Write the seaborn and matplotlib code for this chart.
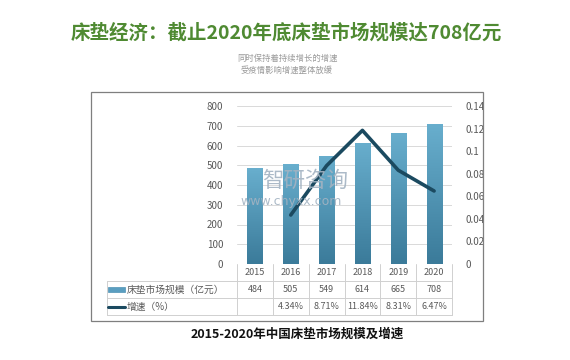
import numpy as np
import pandas as pd
import matplotlib
matplotlib.use("Agg")
import matplotlib.pyplot as plt
import matplotlib.transforms as mtransforms
from matplotlib.lines import Line2D
from matplotlib.patches import Rectangle
import seaborn as sns

# ---------------------------
# Data
# ---------------------------
years = ["2015", "2016", "2017", "2018", "2019", "2020"]
market_size = [484, 505, 549, 614, 665, 708]          # 亿元
growth = [np.nan, 0.0434, 0.0871, 0.1184, 0.0831, 0.0647]
growth_labels = ["", "4.34%", "8.71%", "11.84%", "8.31%", "6.47%"]
left_ticks = [0, 100, 200, 300, 400, 500, 600, 700, 800]
right_ticks = [0, 0.02, 0.04, 0.06, 0.08, 0.1, 0.12, 0.14]
right_tick_labels = ["0", "0.02", "0.04", "0.06", "0.08", "0.1", "0.12", "0.14"]

title = "床垫经济：截止2020年底床垫市场规模达708亿元"
subtitle = ["同时保持着持续增长的增速", "受疫情影响增速整体放缓"]
caption = "2015-2020年中国床垫市场规模及增速"
row_labels = ["床垫市场规模（亿元）", "增速（%）"]

df = pd.DataFrame({"year": years, "size": market_size, "growth": growth})

# ---------------------------
# Style
# ---------------------------
sns.set_style("white")
plt.rcParams["font.family"] = ["Noto Sans CJK SC", "DejaVu Sans"]

W, H = 570, 360
fig = plt.figure(figsize=(W / 100, H / 100), dpi=100)

def fx(px):
    return px / W

def fy(py):
    return 1 - py / H

ax = fig.add_axes([fx(237), fy(264), fx(452) - fx(237), fy(106) - fy(264)])

bar_color = "#5a9ec0"
line_color = "#1b4a60"
tick_color = "#595959"
grid_color = "#d9d9d9"

sns.barplot(data=df, x="year", y="size", color=bar_color, width=0.42,
            saturation=1, ax=ax, zorder=2)

# gradient fill on bars
grad = np.linspace(0, 1, 64).reshape(-1, 1)
cmap = matplotlib.colors.LinearSegmentedColormap.from_list(
    "bar", ["#3b7b9a", "#68aecd"])
for p in ax.patches:
    x0, y0 = p.get_x(), p.get_y()
    w, h = p.get_width(), p.get_height()
    im = ax.imshow(grad, cmap=cmap, aspect="auto", origin="lower",
                   extent=[x0, x0 + w, y0, y0 + h], zorder=2.5)
    im.set_clip_path(p)
    p.set_edgecolor("#4f93b5")
    p.set_linewidth(0.6)

ax.set_xlim(-0.5, len(years) - 0.5)
ax.set_ylim(0, 800)
ax.set_yticks(left_ticks)
ax.set_yticklabels([str(t) for t in left_ticks])
ax.tick_params(axis="y", length=0, pad=10, labelsize=7, labelcolor=tick_color)
ax.set_xticks([])
ax.set_xlabel("")
ax.set_ylabel("")
ax.grid(axis="y", color=grid_color, linewidth=0.7, zorder=0)
ax.set_axisbelow(True)
for s in ax.spines.values():
    s.set_visible(False)

ax2 = ax.twinx()
sns.lineplot(data=df, x="year", y="growth", color=line_color, linewidth=2.6,
             ax=ax2, zorder=5)
ax2.set_ylim(0, 0.14)
ax2.set_yticks(right_ticks)
ax2.set_yticklabels(right_tick_labels)
ax2.tick_params(axis="y", length=0, pad=10, labelsize=7, labelcolor=tick_color)
ax2.set_xlabel("")
ax2.set_ylabel("")
for s in ax2.spines.values():
    s.set_visible(False)

# watermark
fig.text(fx(305), fy(181), "智研咨询", fontsize=15.5, color="#a3b3c2",
         alpha=0.9, ha="center", va="center", zorder=10)
fig.text(fx(291), fy(201), "www.chyxx.com", fontsize=9, color="#a3b3c2",
         alpha=0.9, ha="center", va="center", zorder=10,
         family=["DejaVu Sans"])

# ---------------------------
# Data table under the chart
# ---------------------------
trans = mtransforms.blended_transform_factory(ax.transData, fig.transFigure)
n = len(years)
table_line = "#d0d0d0"
y_top, y_r1, y_r2, y_bot = fy(264), fy(281), fy(298), fy(315)
x_label_left = fx(107)

for yy in (y_r1, y_r2, y_bot):
    fig.add_artist(Line2D([x_label_left, fx(452)], [yy, yy],
                          transform=fig.transFigure, color=table_line, lw=0.7))
for i in range(n + 1):
    fig.add_artist(Line2D([i - 0.5, i - 0.5], [y_top, y_bot], transform=trans,
                          color=table_line, lw=0.7))
fig.add_artist(Line2D([x_label_left, x_label_left], [y_r1, y_bot],
                      transform=fig.transFigure, color=table_line, lw=0.7))

for i, (yr, v, g) in enumerate(zip(years, market_size, growth_labels)):
    fig.text(i, (y_top + y_r1) / 2, yr, transform=trans, ha="center",
             va="center", fontsize=6.5, color=tick_color)
    fig.text(i, (y_r1 + y_r2) / 2, str(v), transform=trans, ha="center",
             va="center", fontsize=6.5, color=tick_color)
    fig.text(i, (y_r2 + y_bot) / 2, g, transform=trans, ha="center",
             va="center", fontsize=6.5, color=tick_color)

# legend keys in the table
fig.add_artist(Rectangle((fx(108), (y_r1 + y_r2) / 2 - 2.5 / H), fx(17), 5 / H,
                         transform=fig.transFigure, facecolor=bar_color,
                         edgecolor="#4f93b5", lw=0.5))
fig.add_artist(Line2D([fx(108), fx(125)], [(y_r2 + y_bot) / 2] * 2,
                      transform=fig.transFigure, color=line_color, lw=2.2))
fig.text(fx(127), (y_r1 + y_r2) / 2, row_labels[0], ha="left", va="center",
         fontsize=7, color=tick_color)
fig.text(fx(127), (y_r2 + y_bot) / 2, row_labels[1], ha="left", va="center",
         fontsize=7, color=tick_color)

# chart frame
fig.add_artist(Rectangle((fx(91), fy(321)), fx(483) - fx(91), fy(92) - fy(321),
                         transform=fig.transFigure, fill=False,
                         edgecolor="#7f7f7f", lw=0.9))

# ---------------------------
# Titles
# ---------------------------
fig.text(fx(286), fy(33), title, ha="center", va="center", fontsize=14,
         fontweight="bold", color="#4f8a32")
fig.text(fx(287), fy(58), subtitle[0], ha="center", va="center",
         fontsize=6, color="#9a9a9a")
fig.text(fx(287), fy(70), subtitle[1], ha="center", va="center",
         fontsize=6, color="#9a9a9a")
fig.text(fx(297), fy(334), caption, ha="center", va="center", fontsize=9,
         fontweight="bold", color="#111111")

fig.savefig("out.png", dpi=100)
plt.close(fig)
